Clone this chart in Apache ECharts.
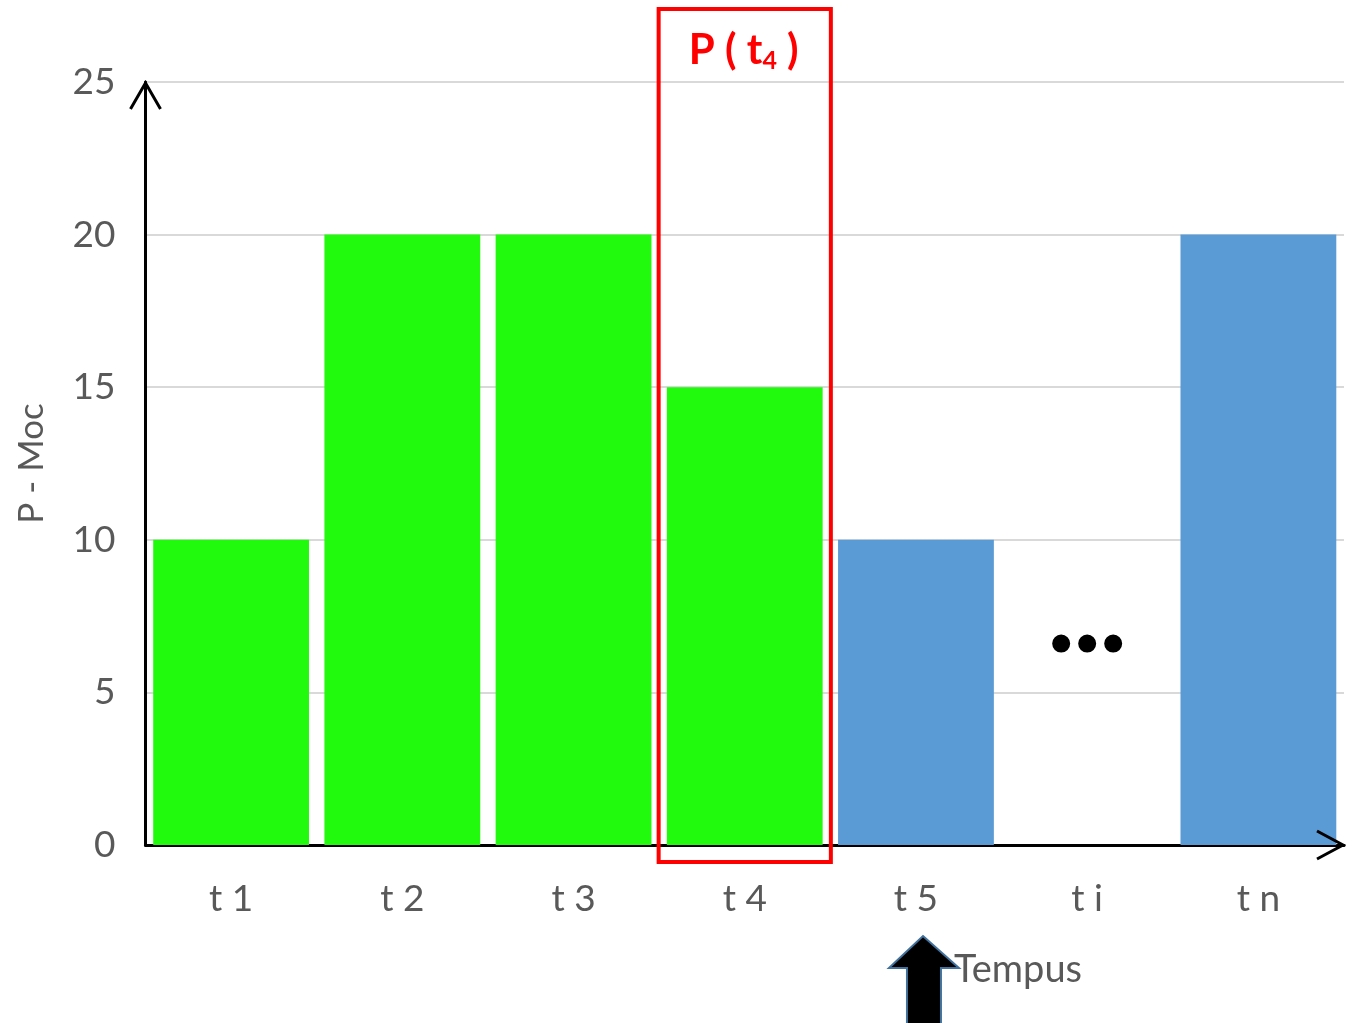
<!DOCTYPE html>
<html>
<head>
<meta charset="utf-8">
<script src="https://cdn.jsdelivr.net/npm/echarts@6/dist/echarts.min.js"></script>
<style>html,body{margin:0;padding:0;background:#fff}#c{width:1356px;height:1023px}</style>
</head>
<body>
<div id="c"></div>
<script>
const categories = ['t 1', 't 2', 't 3', 't 4', 't 5', 't i', 't n'];
const values = [10, 20, 20, 15, 10, null, 20];
const barColors = ['#21FA0C', '#21FA0C', '#21FA0C', '#21FA0C', '#5B9BD5', '#5B9BD5', '#5B9BD5'];
const yTicks = [0, 5, 10, 15, 20, 25];
const dotsPoint = ['t i', 6.6];
const highlightCategory = 't 4';

const FONT = 'Lato, "Open Sans", sans-serif';
const GREY = '#595959';

const chart = echarts.init(document.getElementById('c'));
chart.setOption({
  animation: false,
  backgroundColor: '#fff',
  grid: { left: 145.5, right: 12, top: 82, bottom: 178, containLabel: false },
  xAxis: {
    type: 'category',
    data: categories,
    axisLine: { show: true, lineStyle: { color: '#000', width: 3 } },
    axisTick: { show: false },
    axisLabel: { color: GREY, fontSize: 37, fontFamily: FONT, margin: 36 }
  },
  yAxis: {
    type: 'value',
    min: yTicks[0],
    max: yTicks[yTicks.length - 1],
    interval: 5,
    name: 'P - Moc',
    nameLocation: 'middle',
    nameRotate: 90,
    nameGap: 96,
    nameTextStyle: { color: GREY, fontSize: 35, fontFamily: FONT },
    axisLine: { show: true, lineStyle: { color: '#000', width: 3 } },
    axisTick: { show: false },
    axisLabel: { color: GREY, fontSize: 37, fontFamily: FONT, margin: 30 },
    splitLine: { show: true, lineStyle: { color: '#D9D9D9', width: 2 } }
  },
  series: [
    {
      type: 'bar',
      barCategoryGap: '9%',
      data: values.map((v, i) => ({ value: v, itemStyle: { color: barColors[i] } })),
      z: 1
    },
    {
      type: 'scatter',
      data: [dotsPoint],
      symbol: 'path://M0,9a9,9 0 1,0 18,0a9,9 0 1,0 -18,0zM26,9a9,9 0 1,0 18,0a9,9 0 1,0 -18,0zM52,9a9,9 0 1,0 18,0a9,9 0 1,0 -18,0z',
      symbolSize: [70, 18],
      itemStyle: { color: '#000', opacity: 1 },
      z: 5
    }
  ]
});

// decorations: axis arrows, highlight frame, Tempus arrow
const pOrigin = chart.convertToPixel({ gridIndex: 0 }, [0, 0]);
const pTop = chart.convertToPixel({ gridIndex: 0 }, [0, 25]);
const gridRight = 1356 - 12;
const c4 = chart.convertToPixel({ xAxisIndex: 0 }, highlightCategory);
const bandW = (gridRight - 145.5) / categories.length;
const c5 = chart.convertToPixel({ xAxisIndex: 0 }, 't 5');
const x0 = 145.5;

chart.setOption({
  graphic: [
    { type: 'polyline', shape: { points: [[x0 - 15, pTop[1] + 27], [x0, pTop[1] + 1], [x0 + 15, pTop[1] + 27]] },
      style: { stroke: '#000', lineWidth: 3, fill: null }, z: 10 },
    { type: 'polyline', shape: { points: [[gridRight - 27, pOrigin[1] - 14], [gridRight - 1, pOrigin[1]], [gridRight - 27, pOrigin[1] + 14]] },
      style: { stroke: '#000', lineWidth: 3, fill: null }, z: 10 },
    { type: 'rect', shape: { x: c4 - bandW / 2 - 0.5, y: 9, width: bandW + 1, height: pOrigin[1] + 17 - 9 },
      style: { stroke: '#FF0000', lineWidth: 4, fill: null }, z: 10 },
    { type: 'text', x: c4 - 1, y: 50,
      style: {
        text: '{a|P ( t}{s|4}{a| )}',
        align: 'center', verticalAlign: 'middle',
        rich: {
          a: { fill: '#FF0000', fontSize: 42, fontWeight: 'bold', fontFamily: FONT },
          s: { fill: '#FF0000', fontSize: 25, fontWeight: 'bold', fontFamily: FONT, padding: [22, 0, 0, 0] }
        }
      }, z: 10 },
    { type: 'polygon', shape: { points: [[c5 + 7, 936], [c5 + 43, 968], [c5 + 25, 968], [c5 + 25, 1030], [c5 - 9, 1030], [c5 - 9, 968], [c5 - 27, 968]] },
      style: { fill: '#000', stroke: '#41719C', lineWidth: 2 }, z: 10 },
    { type: 'text', x: 954, y: 970,
      style: { text: 'Tempus', fill: GREY, fontSize: 38, fontFamily: FONT, align: 'left', verticalAlign: 'middle' }, z: 10 }
  ]
});
</script>
</body>
</html>
